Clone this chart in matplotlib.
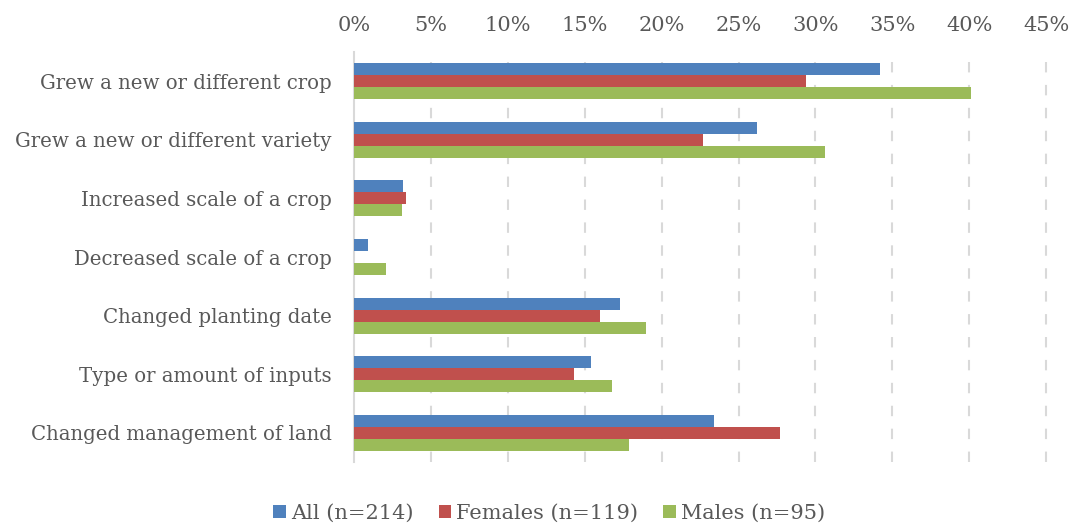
import numpy as np
import matplotlib as mpl
import matplotlib.pyplot as plt

# data (percent of respondents)
categories = ['Grew a new or different crop',
              'Grew a new or different variety',
              'Increased scale of a crop',
              'Decreased scale of a crop',
              'Changed planting date',
              'Type or amount of inputs',
              'Changed management of land']
all_vals = [34.2, 26.2, 3.2, 0.9, 17.3, 15.4, 23.4]
female_vals = [29.4, 22.7, 3.35, 0.0, 16.0, 14.3, 27.7]
male_vals = [40.1, 30.6, 3.15, 2.1, 19.0, 16.8, 17.9]
series_names = ['All (n=214)', 'Females (n=119)', 'Males (n=95)']
xticks = [0, 5, 10, 15, 20, 25, 30, 35, 40, 45]

txt_col = '#595959'
mpl.rc('font', family=['DejaVu Serif'], size=15)

fig = plt.figure(figsize=(10.77, 5.26), dpi=100)
ax = fig.add_axes([0.3287, 0.1211, 0.6455, 0.7806])

y = np.arange(len(categories))
h = 0.205
ax.barh(y - h, all_vals, height=h, color='#4F81BD', label=series_names[0], zorder=3)
ax.barh(y, female_vals, height=h, color='#C0504D', label=series_names[1], zorder=3)
ax.barh(y + h, male_vals, height=h, color='#9BBB59', label=series_names[2], zorder=3)

ax.set_ylim(len(categories) - 0.5, -0.5)
ax.set_xlim(0, 45.2)
ax.set_yticks(y)
ax.set_yticklabels(categories, color=txt_col, fontsize=14.2)
ax.set_xticks(xticks)
ax.set_xticklabels(['%d%%' % t for t in xticks], color=txt_col)
ax.xaxis.tick_top()
ax.tick_params(axis='both', length=0)
ax.tick_params(axis='x', pad=12)
ax.tick_params(axis='y', pad=16)

# dashed vertical gridlines, solid line at zero
for t in xticks[1:]:
    ax.axvline(t, color='#d9d9d9', lw=1.5, ls=(0, (5, 6)), zorder=1)
for s in ['top', 'right', 'bottom']:
    ax.spines[s].set_visible(False)
ax.spines['left'].set_color('#d9d9d9')
ax.spines['left'].set_linewidth(1.5)

leg = fig.legend(loc='lower center', ncol=3, frameon=False, bbox_to_anchor=(0.51, -0.03),
                 handlelength=0.6, handleheight=0.6, handletextpad=0.25, columnspacing=1.2)
for t in leg.get_texts():
    t.set_color(txt_col)

plt.savefig('out.png', dpi=100)
